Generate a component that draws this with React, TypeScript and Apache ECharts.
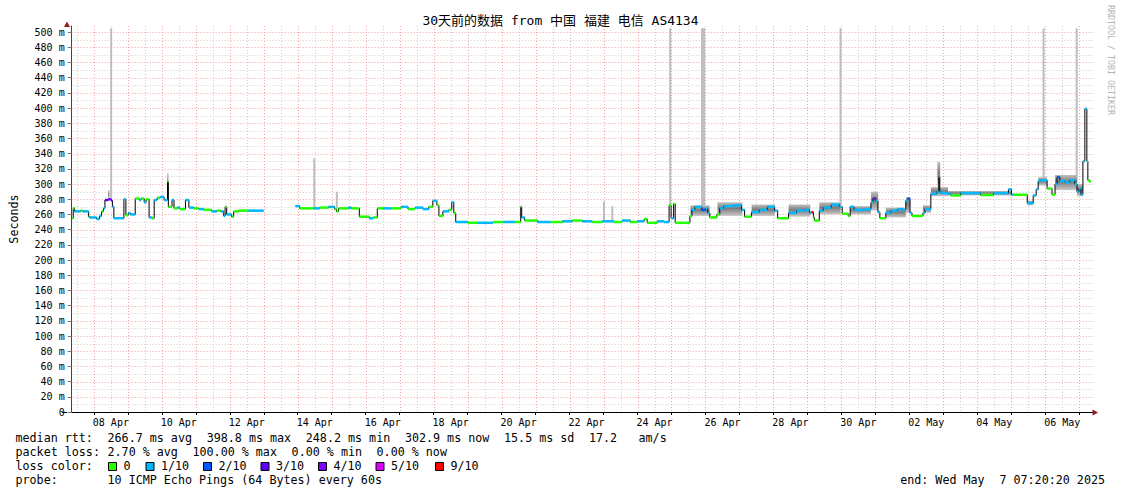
import React, { useEffect, useRef } from 'react';
import * as echarts from 'echarts';

// ---- axis range (hours since 07 Apr 00:00) ----
const START_H = 8.32;
const END_H = 728.32;
const Y_MAX = 508;

// ---- tick labels ----
const xLabelHours = [36, 84, 132, 180, 228, 276, 324, 372, 420, 468, 516, 564, 612, 660, 708];
const xLabels = ['08 Apr', '10 Apr', '12 Apr', '14 Apr', '16 Apr', '18 Apr', '20 Apr', '22 Apr', '24 Apr', '26 Apr', '28 Apr', '30 Apr', '02 May', '04 May', '06 May'];
const dayHours = [24, 48, 72, 96, 120, 144, 168, 192, 216, 240, 264, 288, 312, 336, 360, 384, 408, 432, 456, 480, 504, 528, 552, 576, 600, 624, 648, 672, 696, 720];
const halfDayHours = [12, 36, 60, 84, 108, 132, 156, 180, 204, 228, 252, 276, 300, 324, 348, 372, 396, 420, 444, 468, 492, 516, 540, 564, 588, 612, 636, 660, 684, 708];
const yTicks = [0, 20, 40, 60, 80, 100, 120, 140, 160, 180, 200, 220, 240, 260, 280, 300, 320, 340, 360, 380, 400, 420, 440, 460, 480, 500];
const yMinorTicks = [10, 30, 50, 70, 90, 110, 130, 150, 170, 190, 210, 230, 250, 270, 290, 310, 330, 350, 370, 390, 410, 430, 450, 470, 490];

// ---- median rtt: [hour, ms, loss (tenths)] ----
const medianRtt: (number | null)[][] = [
  [8.3, 255, 0], [9.4, 268, 0], [10.4, 264, 1], [14.6, 265, 0], [16.0, 264, 1], [20.3, 257, 0],
  [21.0, 256, 1], [25.9, 254, 1], [28.0, 258, 1], [29.4, 264, 0], [30.8, 268, 1], [31.8, 279, 3],
  [34.3, 280, 4], [36.4, 278, 3], [37.1, 270, 1], [38.1, 255, 1], [45.2, 280, 1], [46.6, 259, 0],
  [48.3, 262, 1], [49.7, 260, 1], [53.2, 281, 0], [56.0, 279, 1], [57.4, 281, 0], [59.5, 276, 1],
  [60.9, 280, 0], [63.0, 256, 1], [65.2, 255, 0], [66.6, 279, 1], [68.7, 282, 0], [70.8, 283, 1],
  [73.6, 279, 1], [76.0, 303, 0], [76.6, 270, 0], [79.2, 279, 1], [80.6, 268, 0], [82.7, 269, 1],
  [84.8, 267, 0], [88.7, 279, 1], [91.1, 269, 1], [94.6, 268, 0], [98.1, 267, 1], [101.6, 266, 0],
  [107.3, 264, 1], [110.8, 265, 0], [113.6, 264, 1], [115.7, 258, 1], [116.7, 270, 0], [117.8, 260, 1],
  [121.3, 257, 0], [122.7, 264, 0], [126.2, 265, 0], [133.2, 265, 1], [143.8, null, 0],
  [166.4, 271, 1], [169.4, 268, 0], [179.2, 268, 1], [183.4, 269, 0], [189.8, 270, 1], [194.0, 267, 0],
  [195.4, 264, 0], [196.8, 268, 0], [203.8, 269, 1], [205.9, 268, 0], [211.5, 257, 0], [218.5, 255, 1],
  [221.3, 256, 0], [224.2, 268, 0], [228.4, 268, 1], [234.0, 268, 0], [241.0, 270, 1], [245.9, 267, 0],
  [250.8, 269, 1], [256.4, 267, 1], [260.6, 270, 0], [263.4, 278, 1], [266.3, 272, 0], [267.7, 258, 0],
  [270.5, 264, 1], [274.7, 266, 0], [276.8, 276, 1], [278.2, 262, 0], [279.6, 250, 1],
  [288.3, 249, 0], [295.3, 249, 1], [305.9, 250, 0], [312.9, 250, 1], [321.3, 250, 0], [325.5, 270, 0],
  [326.2, 256, 1], [328.3, 252, 0], [337.4, 250, 1], [346.6, 250, 0], [355.0, 251, 1], [362.0, 252, 0],
  [369.0, 251, 1], [376.0, 250, 0], [383.1, 251, 1], [391.5, 250, 0], [397.1, 252, 1],
  [402.9, 250, 0], [407.8, 251, 1], [412.7, 254, 0], [414.8, 249, 0], [421.8, 251, 1], [426.7, 250, 1],
  [430.3, 272, 0], [431.7, 255, 1], [433.5, 274, 0], [434.6, 249, 0], [445.0, 258, 0], [446.4, 266, 1],
  [448.5, 270, 1], [453.4, 266, 2], [456.2, 268, 1], [457.6, 262, 1], [459.1, 256, 0], [464.0, 260, 0],
  [466.1, 268, 1], [468.9, 271, 1], [475.9, 272, 1], [481.5, 266, 1], [483.6, 257, 0], [488.5, 263, 1],
  [494.1, 266, 1], [499.7, 270, 1],
  [504.9, 265, 1], [507.0, 255, 0], [514.7, 262, 1], [520.3, 265, 1], [525.9, 266, 1], [529.4, 262, 1],
  [530.8, 263, 9], [532.2, 256, 0], [532.9, 252, 0], [536.4, 265, 1], [539.2, 269, 1], [544.8, 273, 1],
  [550.5, 270, 1], [552.6, 261, 0], [556.8, 258, 0], [558.2, 270, 1], [561.0, 266, 1], [569.4, 267, 1],
  [572.9, 276, 1], [574.3, 281, 4], [576.4, 278, 1], [577.8, 263, 1], [579.2, 255, 0], [583.4, 262, 1],
  [586.9, 265, 1], [591.8, 267, 1], [595.3, 266, 1], [597.5, 278, 1], [598.9, 281, 2],
  [600.5, 262, 1], [601.9, 258, 0], [609.6, 262, 1], [611.0, 267, 1], [615.2, 287, 1], [619.4, 290, 1],
  [620.8, 310, 0], [621.5, 290, 1], [622.2, 288, 1], [627.2, 287, 1], [629.3, 285, 0], [636.3, 288, 1],
  [650.3, 285.5, 0], [659.4, 288, 1], [670.0, 293, 1], [672.1, 286, 1], [673.5, 286, 0], [683.3, 275, 1],
  [687.5, 285, 1], [689.6, 293, 1], [691.0, 304, 1], [692.4, 305, 1], [697.3, 294, 0], [700.8, 286, 0],
  [702.9, 300, 1], [704.3, 309, 2], [706.4, 304, 1], [709.9, 302, 1], [713.4, 305, 1], [716.9, 300, 1],
  [718.4, 290, 1], [719.8, 294, 1], [721.2, 286, 1], [722.6, 330, 1], [724.0, 399, 1], [725.4, 330, 0],
  [726.1, 305, 0], [727.5, 303, 0], [728.0, 303, 0],
];

// ---- smoke (ping spread): [fromHour, toHour, lowMs, highMs] ----
const smokeBands = [
  [34.0, 35.0, 280, 292], [75.7, 76.7, 278, 314],
  [445.4, 459.0, 258, 272], [464.5, 482.0, 258, 276], [488.6, 505.0, 258, 273], [514.7, 530.0, 257, 273],
  [536.4, 551.5, 260, 276], [558.2, 572.9, 260, 271], [572.9, 578.0, 265, 290], [583.4, 597.5, 256, 269],
  [597.5, 600.5, 262, 283], [609.6, 615.2, 262, 272], [615.2, 627.3, 284, 296], [619.8, 621.8, 296, 329],
  [627.3, 672.1, 285, 291], [683.3, 687.5, 272, 278], [691.0, 697.3, 298, 309], [702.9, 718.4, 292, 312],
  [718.4, 722.6, 284, 300],
];

// ---- max-ping spikes: [hour, lowMs, highMs] ----
const pingSpikes = [
  [36.2, 282, 505], [179.7, 268, 334], [195.6, 268, 290], [384.3, 251, 277], [390.2, 250, 271],
  [431.1, 272, 505], [453.6, 268, 505], [455.0, 268, 505], [551.4, 272, 505], [694.8, 305, 505],
  [718.2, 300, 505],
];

// ---- loss colours ----
const lossLevels = [0, 1, 2, 3, 4, 5, 9];
const lossLabels = ['0', '1/10', '2/10', '3/10', '4/10', '5/10', '9/10'];
const lossColors = ['#26ff00', '#00b8ff', '#0059ff', '#5e00ff', '#7e00ff', '#dd00ff', '#ff0000'];

// ---- statistics text ----
const rttStats = ['266.7 ms avg', '398.8 ms max', '248.2 ms min', '302.9 ms now', '15.5 ms sd', '17.2'];
const lossStats = ['2.70 % avg', '100.00 % max', '0.00 % min', '0.00 % now'];

const FONT = '"DejaVu Sans Mono", "Noto Sans CJK SC", monospace';
const CH = 7.08;
const X0 = 15.5;

function colorFor(loss: number) {
  const i = lossLevels.indexOf(loss);
  return i >= 0 ? lossColors[i] : '#000';
}

function txt(col: number, yc: number, text: string, extra: any = {}) {
  return {
    type: 'text',
    x: X0 + col * CH,
    y: yc,
    z: 50,
    silent: true,
    style: {
      text,
      font: `11.7px ${FONT}`,
      fill: '#000',
      verticalAlign: 'middle',
      textVerticalAlign: 'middle',
      ...extra,
    },
  };
}

function buildOption() {
  const segments = medianRtt
    .slice(0, -1)
    .flatMap((d, i) => (d[1] == null ? [] : [[d[0], medianRtt[i + 1][0], d[1], d[2]]]));

  const smokeFill = new echarts.graphic.LinearGradient(0, 0, 0, 1, [
    { offset: 0, color: '#b9b9b9' },
    { offset: 0.45, color: '#6e6e6e' },
    { offset: 1, color: '#c4c4c4' },
  ]);

  const vLine = (color: string) => (params: any, api: any) => {
    const h = api.value(0);
    const p0 = api.coord([h, 0]);
    const p1 = api.coord([h, Y_MAX]);
    const x = Math.round(p0[0]) + 0.5;
    return {
      type: 'line',
      shape: { x1: x, y1: p1[1], x2: x, y2: p0[1] },
      style: { stroke: color, lineWidth: 1, lineDash: [1, 2] },
    };
  };
  const hLine = (color: string) => (params: any, api: any) => {
    const v = api.value(1);
    const p0 = api.coord([START_H, v]);
    const p1 = api.coord([END_H, v]);
    const y = Math.round(p0[1]) + 0.5;
    return {
      type: 'line',
      shape: { x1: p0[0], y1: y, x2: p1[0] + 2, y2: y },
      style: { stroke: color, lineWidth: 1, lineDash: [1, 2] },
    };
  };

  const graphics: any[] = [];
  graphics.push(txt(0, 438.3, 'median rtt:'));
  [13, 27, 41, 55, 69, 81].forEach((c, i) => graphics.push(txt(c, 438.3, rttStats[i])));
  graphics.push(txt(88, 438.3, 'am/s'));
  graphics.push(txt(0, 452.2, 'packet loss:'));
  [13, 25, 39, 51].forEach((c, i) => graphics.push(txt(c, 452.2, lossStats[i])));
  graphics.push(txt(0, 466.4, 'loss color:'));
  const boxX = [108, 145.5, 203, 260.5, 318, 375.5, 435];
  lossLabels.forEach((lab, i) => {
    graphics.push({
      type: 'rect',
      z: 50,
      silent: true,
      shape: { x: boxX[i] + 0.5, y: 462.5, width: 8, height: 8 },
      style: { fill: lossColors[i], stroke: '#000', lineWidth: 1 },
    });
    graphics.push({
      type: 'text',
      x: boxX[i] + 15.5,
      y: 466.4,
      z: 50,
      silent: true,
      style: { text: lab, font: `11.7px ${FONT}`, fill: '#000', verticalAlign: 'middle', textVerticalAlign: 'middle' },
    });
  });
  graphics.push(txt(0, 480.3, 'probe:'));
  graphics.push(txt(13, 480.3, '10 ICMP Echo Pings (64 Bytes) every 60s'));
  graphics.push({
    type: 'text', x: 1105, y: 480.3, z: 50, silent: true,
    style: { text: '7 07:20:20 2025', font: `11.7px ${FONT}`, fill: '#000', align: 'right', textAlign: 'right', verticalAlign: 'middle', textVerticalAlign: 'middle' },
  });
  graphics.push({
    type: 'text', x: 1105 - 17 * CH, y: 480.3, z: 50, silent: true,
    style: { text: 'end: Wed May', font: `11.7px ${FONT}`, fill: '#000', align: 'right', textAlign: 'right', verticalAlign: 'middle', textVerticalAlign: 'middle' },
  });
  graphics.push({
    type: 'text', x: 1115.5, y: 5, rotation: -Math.PI / 2, z: 50, silent: true,
    style: { text: 'RRDTOOL / TOBI OETIKER', font: `8.3px ${FONT}`, fill: '#b4b4b4' },
  });
  graphics.push({ type: 'line', z: 60, silent: true, shape: { x1: 62, y1: 412.5, x2: 67, y2: 412.5 }, style: { stroke: '#000', lineWidth: 1 } });
  graphics.push({ type: 'line', z: 60, silent: true, shape: { x1: 1090, y1: 412.5, x2: 1094, y2: 412.5 }, style: { stroke: '#000', lineWidth: 1 } });
  graphics.push({ type: 'polygon', z: 60, silent: true, shape: { points: [[1092.5, 409.5], [1092.5, 415.5], [1098, 412.5]] }, style: { fill: '#8e1a1a' } });
  graphics.push({ type: 'polygon', z: 60, silent: true, shape: { points: [[64, 27], [70, 27], [67, 21.5]] }, style: { fill: '#8e1a1a' } });

  return {
    animation: false,
    backgroundColor: '#ffffff',
    title: {
      text: '30天前的数据 from 中国 福建 电信 AS4134',
      left: 'center',
      top: 14,
      padding: 0,
      textStyle: { fontFamily: FONT, fontSize: 13, fontWeight: 'normal', color: '#000' },
    },
    grid: { left: 67, right: 30, top: 26, bottom: 82, containLabel: false },
    xAxis: {
      type: 'value',
      min: START_H,
      max: END_H,
      z: 10,
      axisLine: { show: true, lineStyle: { color: '#000', width: 1 } },
      axisTick: { show: true, customValues: dayHours, length: 3, lineStyle: { color: '#000' } },
      axisLabel: {
        customValues: xLabelHours,
        formatter: (v: number) => {
          const i = xLabelHours.indexOf(Math.round(v));
          return i >= 0 ? xLabels[i] : '';
        },
        fontFamily: FONT,
        fontSize: 10,
        color: '#000',
        margin: 5,
      },
      splitLine: { show: false },
    },
    yAxis: {
      type: 'value',
      min: 0,
      max: Y_MAX,
      z: 10,
      name: 'Seconds',
      nameLocation: 'middle',
      nameRotate: 90,
      nameGap: 52,
      nameTextStyle: { fontFamily: FONT, fontSize: 11.7, color: '#000' },
      axisLine: { show: true, lineStyle: { color: '#444', width: 1 } },
      axisTick: { show: true, customValues: yTicks, length: 4, lineStyle: { color: '#777' } },
      axisLabel: {
        customValues: yTicks,
        formatter: (v: number) => (v === 0 ? '0' : `${v} m`),
        fontFamily: FONT,
        fontSize: 10,
        color: '#000',
        margin: 7,
      },
      splitLine: { show: false },
    },
    graphic: { elements: graphics },
    series: [
      { type: 'custom', name: 'gridMinorX', silent: true, z: 1, data: halfDayHours.map((h) => [h, 0]), encode: { x: 0, y: 1 }, renderItem: vLine('#cfcfcf') },
      { type: 'custom', name: 'gridMinorY', silent: true, z: 1, data: yMinorTicks.map((v) => [START_H, v]), encode: { x: 0, y: 1 }, renderItem: hLine('#cfcfcf') },
      { type: 'custom', name: 'gridMajorX', silent: true, z: 1, data: dayHours.map((h) => [h, 0]), encode: { x: 0, y: 1 }, renderItem: vLine('#f2a3a3') },
      { type: 'custom', name: 'gridMajorY', silent: true, z: 1, data: yTicks.filter((v) => v > 0).map((v) => [START_H, v]), encode: { x: 0, y: 1 }, renderItem: hLine('#f2a3a3') },
      {
        type: 'custom', name: 'spikes', silent: true, z: 2,
        data: pingSpikes, encode: { x: 0, y: [1, 2] },
        renderItem: (params: any, api: any) => {
          const h = api.value(0);
          const p0 = api.coord([h, api.value(1)]);
          const p1 = api.coord([h, api.value(2)]);
          return { type: 'rect', shape: { x: p0[0] - 1, y: p1[1], width: 2, height: p0[1] - p1[1] }, style: { fill: '#bdbdbd' } };
        },
      },
      {
        type: 'custom', name: 'smoke', silent: true, z: 3,
        data: smokeBands, encode: { x: [0, 1], y: [2, 3] },
        renderItem: (params: any, api: any) => {
          const p0 = api.coord([api.value(0), api.value(3)]);
          const p1 = api.coord([api.value(1), api.value(2)]);
          return { type: 'rect', shape: { x: p0[0], y: p0[1], width: Math.max(1, p1[0] - p0[0]), height: p1[1] - p0[1] }, style: { fill: smokeFill, opacity: 0.9 } };
        },
      },
      {
        type: 'line', name: 'median', silent: true, z: 4,
        step: 'end', showSymbol: false, symbol: 'none',
        data: medianRtt.map((d) => [d[0], d[1]]),
        lineStyle: { color: '#000', width: 1 },
        connectNulls: false,
      },
      {
        type: 'custom', name: 'loss', silent: true, z: 5,
        data: segments, encode: { x: [0, 1], y: 2 },
        renderItem: (params: any, api: any) => {
          const v = api.value(2);
          const p0 = api.coord([api.value(0), v]);
          const p1 = api.coord([api.value(1), v]);
          return { type: 'rect', shape: { x: p0[0], y: p0[1] - 1.25, width: Math.max(1, p1[0] - p0[0]), height: 2.5 }, style: { fill: colorFor(api.value(3)) } };
        },
      },
    ],
  };
}

export default function App() {
  const ref = useRef<HTMLDivElement>(null);
  useEffect(() => {
    if (!ref.current) return;
    const chart = echarts.init(ref.current, null, { renderer: 'svg' });
    chart.setOption(buildOption() as any);
    return () => chart.dispose();
  }, []);
  return (
    <div
      ref={ref}
      style={{ position: 'fixed', left: 0, top: 0, width: 1121, height: 494, background: '#fff' }}
    />
  );
}
